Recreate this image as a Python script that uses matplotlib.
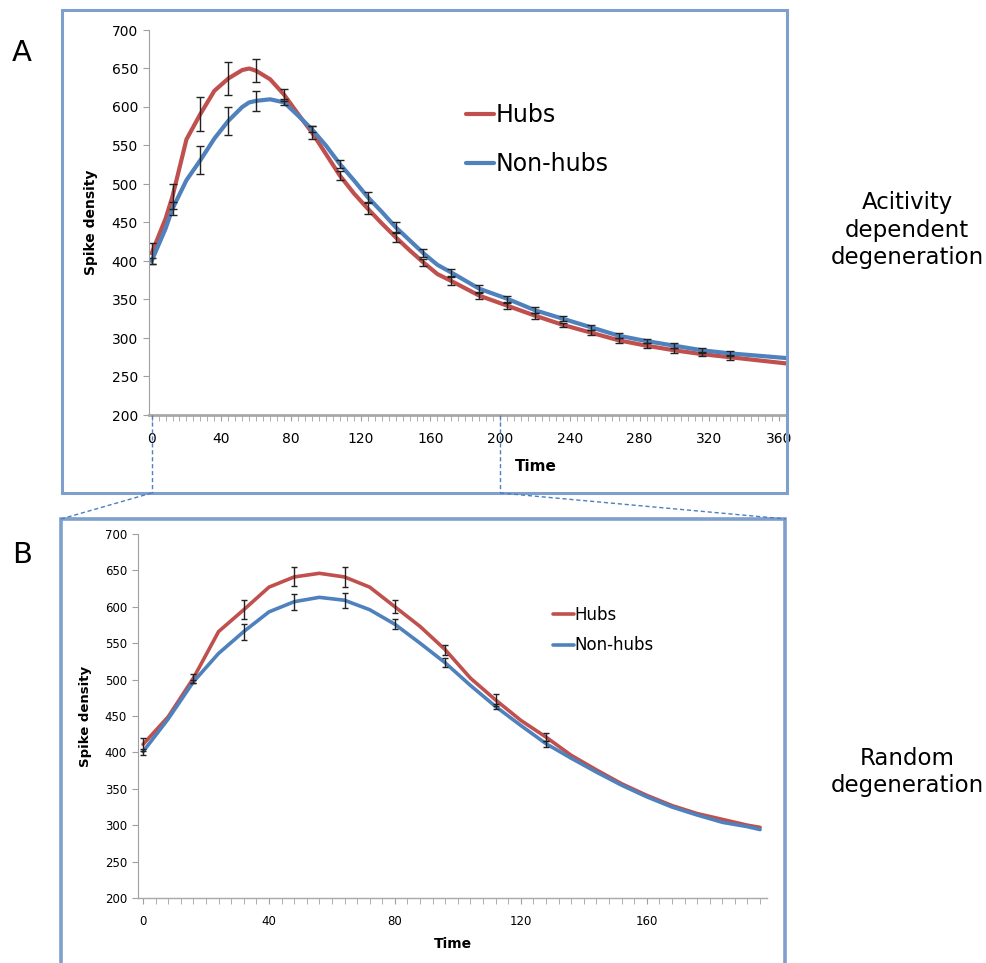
import numpy as np
import matplotlib
matplotlib.use('Agg')
import matplotlib.pyplot as plt
from matplotlib.patches import Rectangle
from matplotlib.lines import Line2D

# --- Panel A: activity dependent degeneration ---
t_a = [0, 8, 12, 20, 28, 36, 44, 52, 56, 60, 68, 76, 84, 92, 100, 108, 116, 124, 132, 140,
       148, 156, 164, 172, 188, 204, 220, 236, 252, 268, 284, 300, 316, 332, 348, 364]
hubs_a = [410, 455, 484, 558, 591, 621, 637, 648, 650, 647, 636, 616, 591, 567, 539, 511, 488, 468, 449, 431,
          414, 398, 383, 374, 355, 342, 329, 317, 307, 297, 290, 284, 279, 275, 271, 267]
nonhubs_a = [400, 442, 468, 505, 531, 559, 582, 600, 606, 608, 610, 606, 589, 571, 550, 526, 505, 483, 464, 444,
             427, 410, 395, 385, 364, 351, 336, 325, 314, 303, 296, 290, 284, 280, 277, 274]
err_t_a = [0, 12, 28, 44, 60, 76, 92, 108, 124, 140, 156, 172, 188, 204, 220, 236, 252, 268, 284, 300, 316, 332]
err_hubs_a = [14, 16, 22, 22, 15, 8, 8, 6, 7, 6, 5, 5, 5, 4, 4, 3, 3, 3, 3, 3, 3, 3]
err_nonhubs_a = [4, 8, 18, 18, 13, 4, 4, 5, 6, 6, 5, 5, 5, 4, 4, 3, 3, 3, 3, 3, 3, 3]

# --- Panel B: random degeneration ---
t_b = [0, 8, 16, 24, 32, 40, 48, 56, 64, 72, 80, 88, 96, 104, 112, 120, 128, 136, 144, 152,
       160, 168, 176, 184, 192, 196]
hubs_b = [411, 449, 502, 566, 596, 627, 641, 646, 641, 627, 600, 573, 541, 502, 472, 444, 421, 396, 376, 357,
          341, 327, 316, 308, 300, 297]
nonhubs_b = [401, 446, 497, 536, 566, 593, 607, 613, 609, 596, 576, 550, 523, 492, 463, 437, 412, 392, 373, 355,
             339, 325, 314, 304, 298, 294]
err_t_b = [0, 16, 32, 48, 64, 80, 96, 112, 128]
err_hubs_b = [9, 6, 13, 13, 14, 9, 7, 8, 5]
err_nonhubs_b = [4, 2, 11, 11, 10, 7, 6, 4, 4]

RED = '#c0504d'
BLUE = '#4f81bd'
FRAME = '#7f9fcc'
DASH = '#4f7fbf'

W, H = 987, 963
fig = plt.figure(figsize=(W / 100, H / 100), dpi=100)


def px(x0, y0, x1, y1):
    # pixel box (left, top, right, bottom) -> figure fraction rect
    return [x0 / W, 1 - y1 / H, (x1 - x0) / W, (y1 - y0) / H]


def style_axes(ax, xmax, tick_fs, lw_x):
    ax.set_ylim(200, 700)
    ax.set_yticks(np.arange(200, 701, 50))
    ax.set_xticks(np.arange(0, xmax + 1, 40))
    ax.set_xticks(np.arange(0, xmax + 1, 4), minor=True)
    for s in ['top', 'right']:
        ax.spines[s].set_visible(False)
    ax.spines['left'].set_color('#a0a0a0')
    ax.spines['bottom'].set_color('#a8a8a8')
    ax.spines['bottom'].set_linewidth(lw_x)
    ax.tick_params(axis='y', length=4, color='#a0a0a0', labelsize=tick_fs, pad=4)
    ax.tick_params(axis='x', which='both', length=4, color='#a0a0a0', labelsize=tick_fs, pad=8)
    ax.patch.set_alpha(0)


# frames
fig.patches.append(Rectangle((62 / W, 1 - 493 / H), 725 / W, 483 / H, transform=fig.transFigure,
                             fill=False, edgecolor=FRAME, lw=2.2))
fig.patches.append(Rectangle((61 / W, -0.02), 724 / W, 1 - 519 / H + 0.02, transform=fig.transFigure,
                             fill=False, edgecolor=FRAME, lw=2.6))

# --- A ---
axA = fig.add_axes(px(149, 30, 786, 415))
axA.set_xlim(-1.5, 364)
style_axes(axA, 360, 10, 2.0)
axA.plot(t_a, hubs_a, color=RED, lw=3.0, label='Hubs', solid_capstyle='round')
axA.plot(t_a, nonhubs_a, color=BLUE, lw=3.0, label='Non-hubs', solid_capstyle='round')
ha = [hubs_a[t_a.index(t)] for t in err_t_a]
na = [nonhubs_a[t_a.index(t)] for t in err_t_a]
axA.errorbar(err_t_a, ha, yerr=err_hubs_a, fmt='none', ecolor='#222222', elinewidth=1, capsize=3, capthick=1)
axA.errorbar(err_t_a, na, yerr=err_nonhubs_a, fmt='none', ecolor='#222222', elinewidth=1, capsize=3, capthick=1)
axA.set_ylabel('Spike density', fontsize=10, fontweight='bold', labelpad=10)
axA.set_xlabel('Time', fontsize=11, fontweight='bold')
axA.xaxis.set_label_coords((536 - 149) / (786 - 149), -0.115)
axA.legend(loc='upper left', bbox_to_anchor=(466 / W, 1 - 103 / H), bbox_transform=fig.transFigure,
           frameon=False, fontsize=17, handlelength=1.2, handletextpad=0.05, labelspacing=1.05,
           borderaxespad=0, borderpad=0)

# --- B ---
axB = fig.add_axes(px(138, 534, 767, 898))
axB.set_xlim(-1.6, 198.2)
style_axes(axB, 196, 8.5, 1.0)
axB.plot(t_b, hubs_b, color=RED, lw=2.6, label='Hubs', solid_capstyle='round')
axB.plot(t_b, nonhubs_b, color=BLUE, lw=2.6, label='Non-hubs', solid_capstyle='round')
hb = [hubs_b[t_b.index(t)] for t in err_t_b]
nb = [nonhubs_b[t_b.index(t)] for t in err_t_b]
axB.errorbar(err_t_b, hb, yerr=err_hubs_b, fmt='none', ecolor='#222222', elinewidth=1, capsize=2.5, capthick=1)
axB.errorbar(err_t_b, nb, yerr=err_nonhubs_b, fmt='none', ecolor='#222222', elinewidth=1, capsize=2.5, capthick=1)
axB.set_ylabel('Spike density', fontsize=9.5, fontweight='bold', labelpad=9)
axB.set_xlabel('Time', fontsize=10, fontweight='bold', labelpad=7)
axB.legend(loc='upper left', bbox_to_anchor=(553 / W, 1 - 606 / H), bbox_transform=fig.transFigure,
           frameon=False, fontsize=12, handlelength=1.25, handletextpad=0.05, labelspacing=0.75,
           borderaxespad=0, borderpad=0)

# zoom connectors: A's 0..200 span expands to panel B's frame
to_fig = fig.transFigure.inverted()
for t_edge, bx in [(0, 61), (200, 786)]:
    xf, yf = to_fig.transform(axA.transData.transform((t_edge, 200)))
    fig.add_artist(Line2D([xf, xf], [yf, 1 - 493 / H], transform=fig.transFigure,
                          color=DASH, lw=1, ls=(0, (3, 2))))
    fig.add_artist(Line2D([xf, bx / W], [1 - 493 / H, 1 - 519 / H], transform=fig.transFigure,
                          color=DASH, lw=1, ls=(0, (3, 2))))

# panel letters and side captions
fig.text(22 / W, 1 - 53 / H, 'A', fontsize=21, ha='center', va='center')
fig.text(22 / W, 1 - 555 / H, 'B', fontsize=21, ha='center', va='center')
fig.text(907 / W, 1 - 230 / H, 'Acitivity\ndependent\ndegeneration', fontsize=16.5,
         ha='center', va='center', linespacing=1.25)
fig.text(907 / W, 1 - 772 / H, 'Random\ndegeneration', fontsize=16.5,
         ha='center', va='center', linespacing=1.25)

fig.savefig('out.png', dpi=100)
